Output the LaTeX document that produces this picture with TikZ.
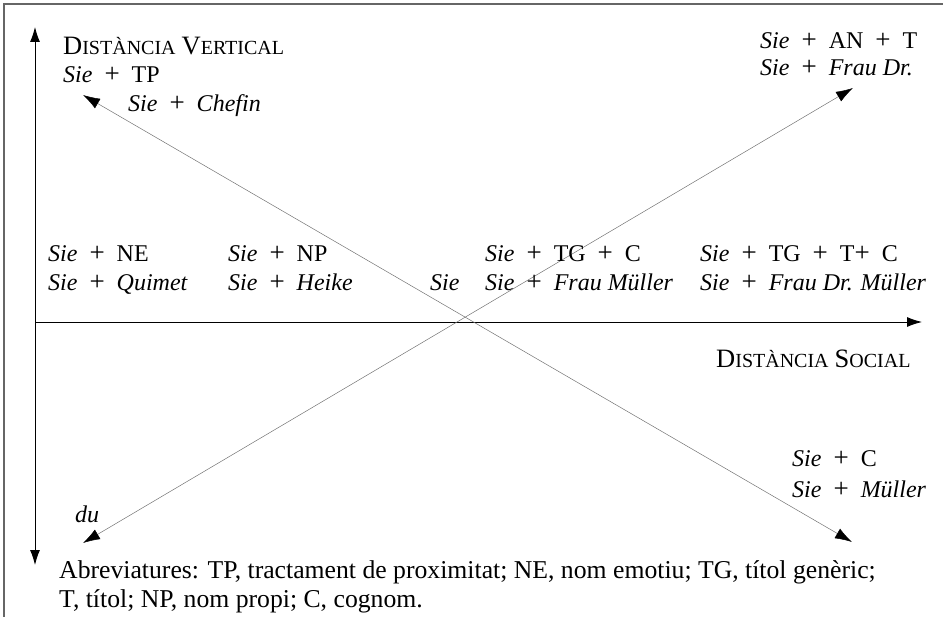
\documentclass[tikz,border=0pt]{standalone}
\usepackage{fontspec}
\setmainfont{Liberation Serif}
\usetikzlibrary{arrows.meta}
\tikzset{
  lbl/.style={anchor=base west, inner sep=0pt, font=\fontsize{24}{28}\selectfont},
  note/.style={anchor=base west, inner sep=0pt, font=\fontsize{25.7}{30}\selectfont},
  axis/.style={line width=0.9pt, black, -{Latex[length=15pt,width=10pt]}},
  diag/.style={line width=0.5pt, black!55, {Latex[length=17pt,width=11pt,black]}-{Latex[length=17pt,width=11pt,black]}},
  frame/.style={line width=1.5pt, black!60}
}
\newcommand{\Sie}{\textit{Sie}}
\newcommand{\pl}{\hspace{0.5em}{\fontsize{27}{28}\selectfont +}\hspace{0.5em}}
\newcommand{\fsc}[2]{{\fontsize{26.5}{30}\selectfont #1}{\fontsize{20}{24}\selectfont #2}}
\begin{document}
\begin{tikzpicture}[x=1pt,y=-1pt]
\useasboundingbox (0,0) rectangle (943,617);
\draw[frame] (4,617) -- (4,4) -- (943,4);
% axes
\coordinate (o) at (35,322);
\coordinate (vtop) at (35,27);
\coordinate (vbot) at (35,565);
\coordinate (hend) at (922,322);
\draw[axis] (o) -- (vtop);
\draw[axis] (o) -- (vbot);
\draw[axis] (o) -- (hend);
% diagonals
\coordinate (nw) at (83,95);
\coordinate (se) at (852,542);
\coordinate (sw) at (83,543);
\coordinate (ne) at (853,88);
\draw[diag] (nw) -- (se);
\draw[diag] (sw) -- (ne);
% labels
\node[lbl] (vt) at (63,55) {\fsc{D}{ISTÀNCIA} \fsc{V}{ERTICAL}};
\node[lbl] (tp) at (63,83) {\Sie\pl TP};
\node[lbl] (chef) at (128,112) {\Sie\pl\textit{Chefin}};
\node[lbl] (ant) at (760,49) {\Sie\pl AN\pl T};
\node[lbl] (frdr) at (760,76) {\Sie\pl\textit{Frau Dr.}};
\node[lbl] (ne1) at (48,262) {\Sie\pl NE};
\node[lbl] (ne2) at (48,291) {\Sie\pl\textit{Quimet}};
\node[lbl] (np1) at (228,262) {\Sie\pl NP};
\node[lbl] (np2) at (228,291) {\Sie\pl\textit{Heike}};
\node[lbl] (sie) at (430,291) {\Sie};
\node[lbl] (tg1) at (485,262) {\Sie\pl TG\pl C};
\node[lbl] (tg2) at (485,291) {\Sie\pl\textit{Frau Müller}};
\node[lbl] (tgt1) at (700,262) {\Sie\pl TG\pl T{\fontsize{27}{28}\selectfont +}\hspace{0.5em}C};
\node[lbl] (tgt2) at (700,291) {\Sie\pl\textit{Frau Dr. Müller}};
\node[lbl] (ds) at (716,368) {\fsc{D}{ISTÀNCIA} \fsc{S}{OCIAL}};
\node[lbl] (c1) at (792,467) {\Sie\pl C};
\node[lbl] (c2) at (792,498) {\Sie\pl\textit{Müller}};
\node[lbl] (du) at (75,522) {\textit{du}};
\node[note] (ab1) at (59,578) {Abreviatures: TP, tractament de proximitat; NE, nom emotiu; TG, títol genèric;};
\node[note] (ab2) at (59,607) {T, títol; NP, nom propi; C, cognom.};
\end{tikzpicture}
\end{document}
